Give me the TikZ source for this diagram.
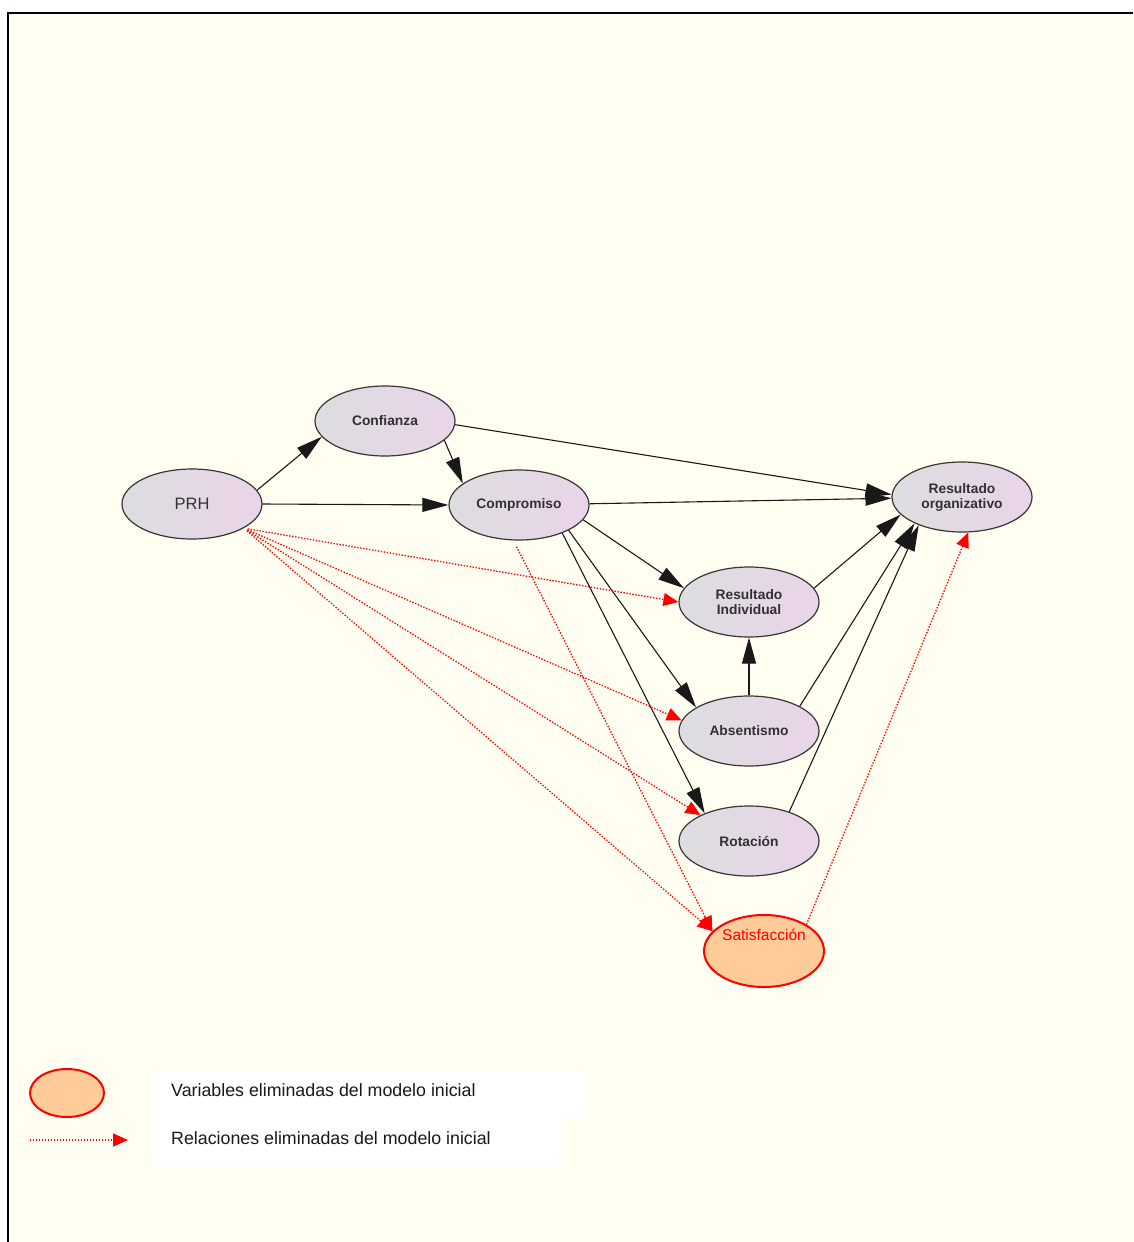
\documentclass[tikz,border=0pt]{standalone}
\usepackage{fontspec}
\setmainfont{Liberation Sans}
\usetikzlibrary{shapes.geometric,arrows.meta}

\definecolor{paper}{RGB}{255,254,240}
\definecolor{nodeL}{RGB}{221,221,223}
\definecolor{nodeR}{RGB}{234,212,233}
\definecolor{rimgrey}{RGB}{55,55,55}
\definecolor{labelgrey}{RGB}{50,48,54}
\definecolor{peach}{RGB}{255,204,153}

\tikzset{
  var/.style={ellipse, minimum width=140pt, minimum height=70pt, inner sep=0pt,
    draw=rimgrey, line width=1.2pt, left color=nodeL, right color=nodeR,
    text=labelgrey, align=center, font=\bfseries\fontsize{13.8}{15}\selectfont},
  dropped/.style={ellipse, inner sep=0pt, draw=red, line width=2pt, fill=peach},
  link/.style={-{Triangle[length=26pt,width=14pt]}, line width=1.1pt, draw=black!90},
  droplink/.style={-{Triangle[length=15pt,width=13pt]}, draw=red, line width=1.3pt,
    dash pattern=on 1.4pt off 1.6pt},
  legendtext/.style={anchor=west, inner sep=0pt, text=black!90,
    font=\fontsize{17.8}{18}\selectfont},
}

\begin{document}
\begin{tikzpicture}[x=1pt, y=-1pt]
\useasboundingbox (0,0) rectangle (1133,1242);
% paper and frame
\fill[white] (0,0) rectangle (1133,1242);
\fill[paper] (8,13) rectangle (1133,1242);
\draw[black, line width=2pt] (8,1242) -- (8,13) -- (1133,13);

% variables
\node[var] (prh)  at (192,504) {\mdseries\fontsize{16.5}{17}\selectfont PRH};
\node[var] (conf) at (385,421) {Confianza};
\node[var] (comp) at (519,505) {Compromiso};
\node[var] (ro)   at (962,497) {Resultado\\organizativo};
\node[var] (ri)   at (749,602) {Resultado\\Individual};
\node[var] (ab)   at (749,731) {Absentismo};
\node[var] (rot)  at (749,841) {Rotación};
\node[dropped, minimum width=120pt, minimum height=72pt] (sat) at (764,951) {};

% retained relations
\draw[link] (prh.12)   -- (conf.-166);
\draw[link] (prh.east) -- (comp.west);
\draw[link] (conf.-18) -- (comp.159);
\draw[link] (conf.-3)  -- (ro.178);
\draw[link] (comp.1)   -- (ro.-179);
\draw[link] (comp.-13) -- (ri.168);
\draw[link] (comp.-27) -- (ab.156);
\draw[link] (comp.-33) -- (rot.148);
\draw[link] (ri.12)    -- (ro.-164);
\draw[link] (ab.north) -- (ri.south);
\draw[link] (ab.26)    -- (ro.-151);
\draw[link] (rot.36)   -- (ro.-147);

% removed relations
\draw[droplink, shorten <=4pt] (prh.-25) -- (ri.west);
\draw[droplink, shorten <=4pt] (prh.-25) -- (ab.171);
\draw[droplink, shorten <=4pt] (prh.-25) -- (rot.152);
\draw[droplink, shorten <=4pt] (prh.-25) -- (sat.159);
\draw[droplink, shorten <=7pt] (comp.-99) -- (sat.159);
\draw[droplink] (sat.32) -- (ro.-80);

\node[text=red, inner sep=0pt, font=\fontsize{15.5}{15}\selectfont] (satlabel) at (764,935) {Satisfacción};

% legend
\fill[white] (152,1070) rectangle (585,1118);
\fill[white] (152,1118) rectangle (562,1165);
\node[dropped, minimum width=74pt, minimum height=48pt] (legvar) at (67,1093) {};
\coordinate (legfrom) at (30,1140);
\coordinate (legto) at (128,1140);
\draw[droplink] (legfrom) -- (legto);
\node[legendtext] (legvartext) at (171,1090) {Variables eliminadas del modelo inicial};
\node[legendtext] (legreltext) at (171,1138) {Relaciones eliminadas del modelo inicial};
\end{tikzpicture}
\end{document}
